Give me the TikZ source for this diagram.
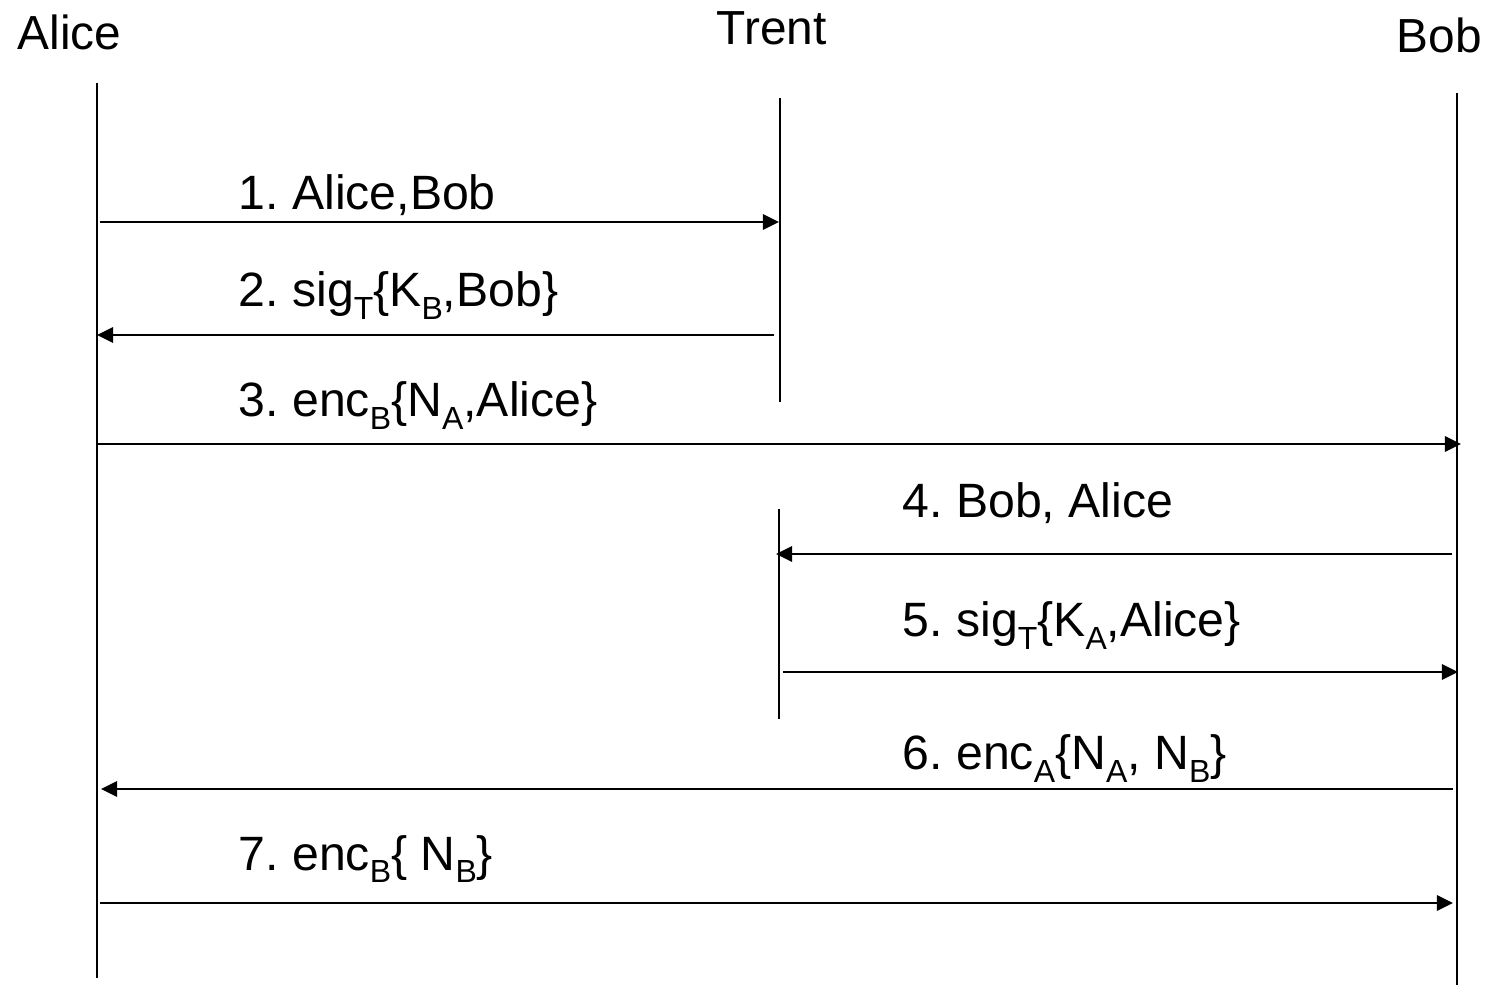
\documentclass[tikz,border=0pt]{standalone}
\usepackage{fontspec}
\setmainfont{Liberation Sans}
\usetikzlibrary{arrows.meta}
\frenchspacing
\newcommand\lsub[1]{\raisebox{-3.6pt}{\fontsize{9.1}{10}\selectfont #1}}
\tikzset{
  actor/.style={anchor=base west, inner sep=0pt, font=\fontsize{13.6}{16}\selectfont},
  msglabel/.style={anchor=base west, inner sep=0pt, font=\fontsize{13.7}{16}\selectfont},
  life/.style={line width=0.57pt, black},
  msg/.style={line width=0.57pt, black, -{Triangle[length=4.6pt, width=4.4pt]}}
}
\begin{document}
\begin{tikzpicture}[x=0.01cm, y=-0.01cm]
\useasboundingbox (0,0) rectangle (1485,986);
% actors
\node[actor] (alice) at (17,50) {Alice};
\node[actor] (trent) at (716,45) {Trent};
\node[actor] (bob) at (1396,53) {Bob};
% lifelines
\coordinate (aTop) at (97,83);  \coordinate (aBot) at (97,978);
\coordinate (tTop) at (780,98); \coordinate (tMid1) at (780,402);
\coordinate (tMid2) at (779,509); \coordinate (tBot) at (779,719);
\coordinate (bTop) at (1457,93); \coordinate (bBot) at (1457,985);
\draw[life] (aTop) -- (aBot);
\draw[life] (tTop) -- (tMid1);
\draw[life] (tMid2) -- (tBot);
\draw[life] (bTop) -- (bBot);
% message endpoints
\coordinate (m1a) at (100,222);  \coordinate (m1b) at (779,222);
\coordinate (m2a) at (774,335);  \coordinate (m2b) at (97,335);
\coordinate (m3a) at (97,444);   \coordinate (m3b) at (1461,444);
\coordinate (m4a) at (1452,554); \coordinate (m4b) at (776,554);
\coordinate (m5a) at (783,672);  \coordinate (m5b) at (1458,672);
\coordinate (m6a) at (1453,789); \coordinate (m6b) at (101,789);
\coordinate (m7a) at (100,903);  \coordinate (m7b) at (1453,903);
\draw[msg] (m1a) -- (m1b);
\draw[msg] (m2a) -- (m2b);
\draw[msg] (m3a) -- (m3b);
\draw[msg] (m4a) -- (m4b);
\draw[msg] (m5a) -- (m5b);
\draw[msg] (m6a) -- (m6b);
\draw[msg] (m7a) -- (m7b);
% labels
\node[msglabel] (l1) at (238,210) {1. Alice,Bob};
\node[msglabel] (l2) at (238,307) {2. sig\lsub{T}\{K\lsub{B},Bob\}};
\node[msglabel] (l3) at (238,417) {3. enc\lsub{B}\{N\lsub{A},Alice\}};
\node[msglabel] (l4) at (902,518) {4. Bob, Alice};
\node[msglabel] (l5) at (902,637) {5. sig\lsub{T}\{K\lsub{A},Alice\}};
\node[msglabel] (l6) at (902,770) {6. enc\lsub{A}\{N\lsub{A}, N\lsub{B}\}};
\node[msglabel] (l7) at (238,870) {7. enc\lsub{B}\{ N\lsub{B}\}};
\end{tikzpicture}
\end{document}
